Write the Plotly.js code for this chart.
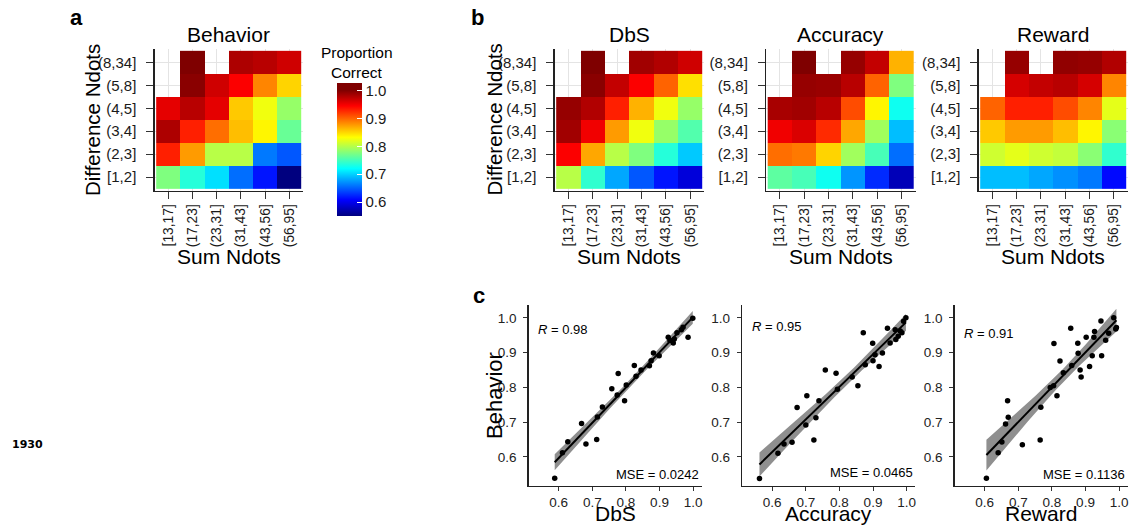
<!DOCTYPE html>
<html>
<head>
<meta charset="utf-8">
<script src="https://cdn.plot.ly/plotly-3.0.1.min.js"></script>
<style>html,body{margin:0;padding:0;background:#fff;}#chart{width:1146px;height:525px;}</style>
</head>
<body>
<div id="chart"></div>
<script>
// ---------- data ----------
const sumBins = ["[13,17]", "(17,23]", "(23,31]", "(31,43]", "(43,56]", "(56,95]"];
const diffBins = ["(8,34]", "(5,8]", "(4,5]", "(3,4]", "(2,3]", "[1,2]"]; // top to bottom

const behaviorGrid = [
  [null, 1.000, null, 0.980, 0.975, 0.965],
  [null, 0.995, 0.965, 0.945, 0.885, 0.850],
  [0.955, 0.975, 0.955, 0.855, 0.825, 0.785],
  [0.980, 0.930, 0.895, 0.860, 0.835, 0.765],
  [0.930, 0.875, 0.800, 0.800, 0.660, 0.645],
  [0.775, 0.735, 0.705, 0.655, 0.615, 0.540]
];
const dbsGrid = [
  [null, 1.000, null, 0.985, 0.978, 0.965],
  [null, 0.995, 0.970, 0.945, 0.900, 0.845],
  [0.990, 0.978, 0.930, 0.865, 0.825, 0.785],
  [0.985, 0.950, 0.875, 0.825, 0.785, 0.755],
  [0.945, 0.870, 0.800, 0.775, 0.735, 0.695],
  [0.800, 0.740, 0.680, 0.645, 0.615, 0.590]
];
const accuracyGrid = [
  [null, 1.000, null, 0.990, 0.970, 0.865],
  [null, 0.990, 0.988, 0.975, 0.900, 0.775],
  [0.982, 0.985, 0.975, 0.910, 0.835, 0.725],
  [0.950, 0.960, 0.925, 0.870, 0.790, 0.690],
  [0.895, 0.890, 0.850, 0.790, 0.750, 0.655],
  [0.760, 0.750, 0.725, 0.672, 0.625, 0.575]
];
const rewardGrid = [
  [null, 0.990, null, 0.992, 0.990, 0.978],
  [null, 0.962, 0.970, 0.975, 0.962, 0.885],
  [0.900, 0.930, 0.930, 0.910, 0.885, 0.820],
  [0.855, 0.875, 0.875, 0.860, 0.835, 0.780],
  [0.810, 0.820, 0.810, 0.805, 0.780, 0.740],
  [0.690, 0.690, 0.680, 0.670, 0.660, 0.610]
];

const colorTicks = [0.6, 0.7, 0.8, 0.9, 1.0];
const scatterTicks = [0.6, 0.7, 0.8, 0.9, 1.0];

// scatter panel c: model prediction (x) vs behaviour (y)
const dbsX = [0.588,0.611,0.627,0.668,0.681,0.713,0.715,0.730,0.758,0.777,0.774,0.796,0.801,0.825,0.830,0.845,0.870,0.875,0.882,0.899,0.926,0.931,0.941,0.944,0.952,0.965,0.970,0.985,0.999];
const dbsY = [0.539,0.612,0.644,0.696,0.637,0.650,0.715,0.744,0.796,0.840,0.778,0.762,0.807,0.863,0.832,0.850,0.862,0.877,0.899,0.891,0.944,0.935,0.928,0.939,0.957,0.966,0.973,0.944,0.999];

const accX = [0.562,0.617,0.635,0.659,0.674,0.700,0.703,0.724,0.730,0.739,0.758,0.790,0.794,0.838,0.855,0.871,0.877,0.899,0.900,0.906,0.918,0.928,0.943,0.951,0.966,0.968,0.975,0.981,0.986,0.991,0.998];
const accY = [0.538,0.611,0.637,0.642,0.742,0.692,0.776,0.649,0.713,0.762,0.850,0.841,0.795,0.830,0.805,0.957,0.865,0.927,0.877,0.894,0.860,0.899,0.970,0.928,0.966,0.938,0.947,0.962,0.957,0.990,1.000];

const rewX = [0.605,0.640,0.651,0.662,0.668,0.670,0.712,0.765,0.767,0.795,0.805,0.806,0.815,0.824,0.834,0.856,0.859,0.877,0.878,0.884,0.887,0.902,0.912,0.920,0.925,0.927,0.946,0.948,0.960,0.969,0.984,0.990,0.992];
const rewY = [0.539,0.612,0.643,0.695,0.762,0.714,0.635,0.649,0.743,0.800,0.805,0.926,0.776,0.876,0.842,0.970,0.863,0.927,0.898,0.850,0.830,0.944,0.860,0.891,0.944,0.961,0.991,0.891,0.936,0.956,1.000,0.968,0.972];

const rLabels = ["0.98", "0.95", "0.91"];
const mseLabels = ["MSE = 0.0242", "MSE = 0.0465", "MSE = 0.1136"];

// ---------- helpers ----------
const W = 1146, H = 525;
const px = p => p / W;
const py = p => 1 - p / H;
const FONT = "Liberation Sans, Arial, Helvetica, sans-serif";

// jet palette, reaching dark red at 1.0
const cmin = 0.549, cmax = 1.026;
const jet = ["#00007F","#0000FF","#007FFF","#00FFFF","#7FFF7F","#FFFF00","#FF7F00","#FF0000","#7F0000"];
const colorscale = [[0, jet[0]]];
jet.forEach((c, k) => {
  const v = 0.55 + k * (1.0 - 0.55) / 8;
  colorscale.push([(v - cmin) / (cmax - cmin), c]);
});
colorscale.push([1, "#7F0000"]);

const traces = [];
const grids = [behaviorGrid, dbsGrid, accuracyGrid, rewardGrid];
const hmNames = ["Behavior", "DbS", "Accuracy", "Reward"];
grids.forEach((g, i) => {
  const ax = i === 0 ? "" : String(i + 1);
  traces.push({
    type: "heatmap",
    x: sumBins.map((_, j) => j),
    y: diffBins.map((_, r) => diffBins.length - 1 - r),
    z: g,
    coloraxis: "coloraxis",
    xaxis: "x" + ax, yaxis: "y" + ax,
    hoverinfo: "skip", xgap: 0, ygap: 0
  });
});

function fit(xs, ys) {
  const n = xs.length;
  const mx = xs.reduce((a, b) => a + b, 0) / n;
  const my = ys.reduce((a, b) => a + b, 0) / n;
  let sxx = 0, sxy = 0;
  for (let i = 0; i < n; i++) { sxx += (xs[i] - mx) ** 2; sxy += (xs[i] - mx) * (ys[i] - my); }
  const b = sxy / sxx, a = my - b * mx;
  let sse = 0;
  for (let i = 0; i < n; i++) sse += (ys[i] - a - b * xs[i]) ** 2;
  const s = Math.sqrt(sse / (n - 2));
  return { a, b, s, n, mx, sxx };
}

const scatterSets = [[dbsX, dbsY], [accX, accY], [rewX, rewY]];
scatterSets.forEach(([xs, ys], i) => {
  const ax = String(i + 5);
  const f = fit(xs, ys);
  const lo = Math.min(...xs), hi = Math.max(...xs);
  const gx = [], up = [], dn = [], ly = [];
  const N = 60, tcrit = 2.04;
  for (let k = 0; k <= N; k++) {
    const x0 = lo + (hi - lo) * k / N;
    const yhat = f.a + f.b * x0;
    const se = f.s * Math.sqrt(1 / f.n + (x0 - f.mx) ** 2 / f.sxx);
    gx.push(x0); ly.push(yhat); up.push(yhat + tcrit * se); dn.push(yhat - tcrit * se);
  }
  traces.push({
    type: "scatter", mode: "lines", x: gx.concat(gx.slice().reverse()),
    y: up.concat(dn.slice().reverse()), fill: "toself",
    fillcolor: "rgba(95,95,95,0.7)", line: { width: 0 },
    xaxis: "x" + ax, yaxis: "y" + ax, hoverinfo: "skip", showlegend: false
  });
  traces.push({
    type: "scatter", mode: "markers", x: xs, y: ys,
    marker: { color: "#000", size: 5.5 },
    xaxis: "x" + ax, yaxis: "y" + ax, hoverinfo: "skip", showlegend: false
  });
  traces.push({
    type: "scatter", mode: "lines", x: gx, y: ly,
    line: { color: "#000", width: 2 },
    xaxis: "x" + ax, yaxis: "y" + ax, hoverinfo: "skip", showlegend: false
  });
});

// ---------- layout ----------
const hmBoxes = [[154.5, 303], [554.5, 704], [766, 915.5], [978.5, 1127.5]];
const hmTop = 49, hmBot = 190.5;
const scBoxes = [[528.5, 701.5], [742, 915], [954.5, 1127.5]];
const scTop = 305, scBot = 485.5;

const layout = {
  width: W, height: H, autosize: false,
  margin: { l: 0, r: 0, t: 0, b: 0, pad: 0 },
  paper_bgcolor: "#fff", plot_bgcolor: "rgba(0,0,0,0)",
  showlegend: false,
  font: { family: FONT, color: "#1a1a1a" },
  coloraxis: {
    colorscale: colorscale, cmin: cmin, cmax: cmax,
    colorbar: {
      x: px(337.3), xanchor: "left", y: py(83.3), yanchor: "top",
      len: (216.5 - 83.3) / H, lenmode: "fraction",
      thickness: 25, thicknessmode: "pixels",
      xpad: 0, ypad: 0, outlinewidth: 0,
      ticks: "inside", ticklen: 5, tickcolor: "#fff", tickwidth: 1,
      tickvals: colorTicks, ticktext: colorTicks.map(v => v.toFixed(1)),
      tickfont: { size: 15, family: FONT, color: "#1a1a1a" },
      title: { text: "" }
    }
  },
  annotations: []
};

const baseAxis = {
  ticks: "outside", tickwidth: 1, tickcolor: "#333",
  showline: true, linecolor: "#222", linewidth: 1.2,
  zeroline: false, fixedrange: true
};

hmBoxes.forEach((b, i) => {
  const ax = i === 0 ? "" : String(i + 1);
  layout["xaxis" + ax] = Object.assign({}, baseAxis, {
    domain: [px(b[0]), px(b[1])], anchor: "y" + ax,
    range: [-0.57, 5.57], tickmode: "array",
    tickvals: sumBins.map((_, j) => j), ticktext: sumBins,
    tickangle: -90, ticklen: 7, ticklabelstandoff: 0,
    showgrid: true, gridcolor: "#e4e4e4", gridwidth: 1,
    tickfont: { size: 13.8, family: FONT, color: "#1a1a1a" }
  });
  layout["yaxis" + ax] = Object.assign({}, baseAxis, {
    domain: [py(hmBot), py(hmTop)], anchor: "x" + ax,
    range: [-0.58, 5.58], tickmode: "array",
    tickvals: diffBins.map((_, r) => diffBins.length - 1 - r), ticktext: diffBins,
    ticklen: 7, ticklabelstandoff: 7,
    showgrid: true, gridcolor: "#e4e4e4", gridwidth: 1,
    tickfont: { size: 15, family: FONT, color: "#1a1a1a" }
  });
  const cx = (b[0] + b[1]) / 2;
  layout.annotations.push({ text: hmNames[i], x: px(cx), y: py(34), xref: "paper", yref: "paper",
    showarrow: false, xanchor: "center", yanchor: "middle", font: { size: 21, family: FONT, color: "#000" } });
  layout.annotations.push({ text: "Sum Ndots", x: px(cx), y: py(256), xref: "paper", yref: "paper",
    showarrow: false, xanchor: "center", yanchor: "middle", font: { size: 21, family: FONT, color: "#000" } });
});

const scNames = ["DbS", "Accuracy", "Reward"];
const rPos = [[536, 329.5], [750, 326.5], [962, 333.3]];
const msePos = [[701, 474.7], [915, 472.8], [1127, 474.5]];
scBoxes.forEach((b, i) => {
  const ax = String(i + 5);
  layout["xaxis" + ax] = Object.assign({}, baseAxis, {
    domain: [px(b[0]), px(b[1])], anchor: "y" + ax,
    range: [0.51, 1.025], tickmode: "array",
    tickvals: scatterTicks, ticktext: scatterTicks.map(v => v.toFixed(1)),
    ticklen: 4, ticklabelstandoff: 0,
    showgrid: false, tickfont: { size: 13.5, family: FONT, color: "#222" }
  });
  layout["yaxis" + ax] = Object.assign({}, baseAxis, {
    domain: [py(scBot), py(scTop)], anchor: "x" + ax,
    range: [0.518, 1.037], tickmode: "array",
    tickvals: scatterTicks, ticktext: scatterTicks.map(v => v.toFixed(1)),
    ticklen: 4, ticklabelstandoff: 4,
    showgrid: false, tickfont: { size: 13.5, family: FONT, color: "#222" }
  });
  const cx = (b[0] + b[1]) / 2;
  layout.annotations.push({ text: scNames[i], x: px(cx), y: py(513), xref: "paper", yref: "paper",
    showarrow: false, xanchor: "center", yanchor: "middle", font: { size: 21, family: FONT, color: "#000" } });
  layout.annotations.push({ text: "<i>R</i> = " + rLabels[i], x: px(rPos[i][0]), y: py(rPos[i][1]), xref: "paper", yref: "paper",
    showarrow: false, xanchor: "left", yanchor: "middle", font: { size: 13, family: FONT, color: "#000" } });
  layout.annotations.push({ text: mseLabels[i], x: px(msePos[i][0]), y: py(msePos[i][1]), xref: "paper", yref: "paper",
    showarrow: false, xanchor: "right", yanchor: "middle", font: { size: 13, family: FONT, color: "#000" } });
});

const extra = [
  { text: "Difference Ndots", x: 92.3, y: 119.75, size: 20.5, angle: -90 },
  { text: "Difference Ndots", x: 494.7, y: 119.75, size: 20.5, angle: -90 },
  { text: "Behavior", x: 494.7, y: 395.25, size: 22, angle: -90 },
  { text: "Proportion", x: 356.7, y: 52.9, size: 15.5, angle: 0 },
  { text: "Correct", x: 357, y: 72.3, size: 15.5, angle: 0 },
  { text: "<b>a</b>", x: 76.3, y: 17.3, size: 22, angle: 0 },
  { text: "<b>b</b>", x: 477, y: 17.3, size: 22, angle: 0 },
  { text: "<b>c</b>", x: 478.5, y: 295.5, size: 22, angle: 0 }
];
extra.forEach(e => {
  layout.annotations.push({ text: e.text, x: px(e.x), y: py(e.y), xref: "paper", yref: "paper",
    showarrow: false, xanchor: "center", yanchor: "middle", textangle: e.angle,
    font: { size: e.size, family: FONT, color: "#000" } });
});
layout.annotations.push({ text: "<b>1930</b>", x: px(27.5), y: py(444), xref: "paper", yref: "paper",
  showarrow: false, xanchor: "center", yanchor: "middle",
  font: { size: 11, family: "DejaVu Sans, sans-serif", color: "#000" } });

Plotly.newPlot("chart", traces, layout, { staticPlot: true, displayModeBar: false });
</script>
</body>
</html>
